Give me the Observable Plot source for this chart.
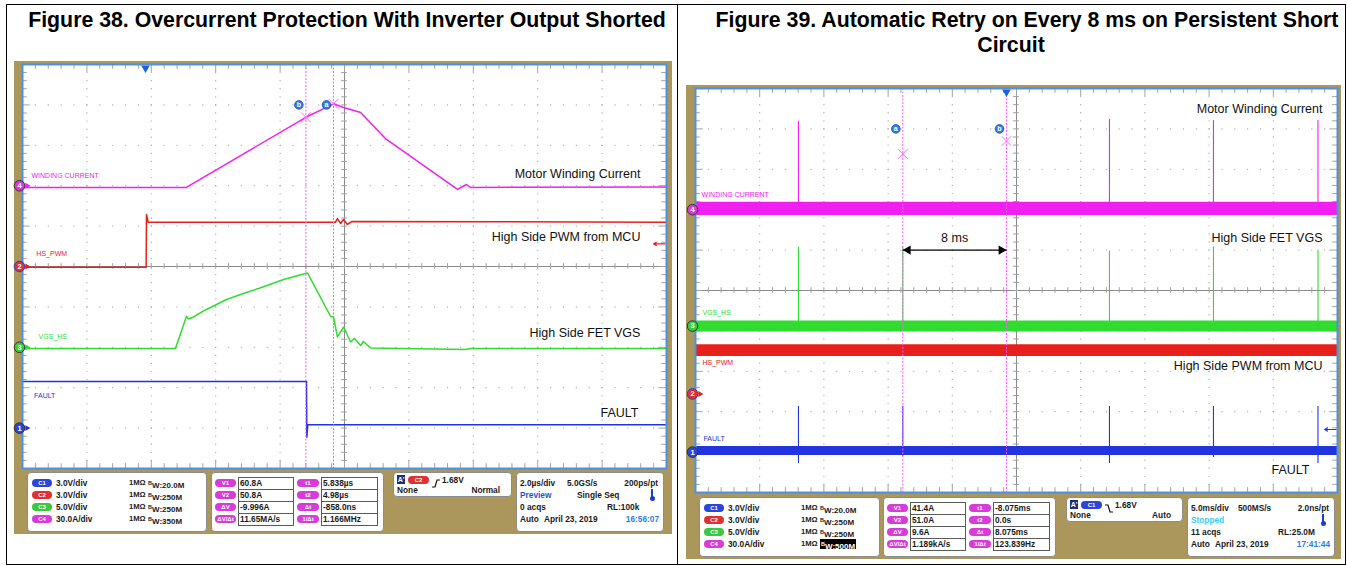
<!DOCTYPE html>
<html><head><meta charset="utf-8">
<script src="https://cdn.jsdelivr.net/npm/d3@7"></script>
<script src="https://cdn.jsdelivr.net/npm/@observablehq/plot@0.6"></script>
<style>
body{margin:0;background:#fff;font-family:Arial,"Liberation Sans",Helvetica,sans-serif;}
#page{position:relative;width:1347px;height:566px;overflow:hidden;background:#fff;}
.t{position:absolute;white-space:nowrap;line-height:10px;height:10px;font-size:8.3px;font-weight:bold;color:#1a1a1a;}
.panel{position:absolute;background:#fff;border:1px solid #8c8c8c;border-radius:4px;box-sizing:border-box;}
.pill{position:absolute;height:8px;border-radius:4px;color:#fff;font-size:6px;font-weight:bold;text-align:center;line-height:8px;}
.box{position:absolute;border:1px solid #5a5a5a;box-sizing:border-box;background:#fff;}
.tan{position:absolute;background:#ab975c;}
</style></head><body><div id="page"></div>
<script>
// ---------------- DATA ----------------
const titles38 = ["Figure 38. Overcurrent Protection With Inverter Output Shorted"];
const titles39 = ["Figure 39. Automatic Retry on Every 8 ms on Persistent Short", "Circuit"];

const chNames = ["C1", "C2", "C3", "C4"];
const chColors = ["#2233e0", "#e8201c", "#2fdc2f", "#f020f0"];
const pillColors = ["#2c44d8", "#e03030", "#3cc83c", "#d83cd8"];
const chScalesText = ["3.0V/div", "3.0V/div", "5.0V/div", "30.0A/div"];
const chScale = [3, 3, 5, 30];           // units per division
const f38Bw = ["20.0M", "250M", "250M", "350M"];
const f39Bw = ["20.0M", "250M", "250M", "500M"];
const f38Offset = [1, 5, 3, 7];          // channel ground position, divisions
const f39Offset = [1, 2.44, 4.12, 7];

// Figure 38 waveforms (time in µs, trigger at 0)
const f38Time = [-3.82, 16.18];
const f38CurrentT = [-3.82, 1.27, 4.98, 5.84, 6.15, 6.68, 7.45, 9.69, 9.85, 9.97, 10.09, 16.18];
const f38Current = [-1.3, -1.3, 50.8, 60.8, 58.1, 54.4, 35.0, -2.8, -0.6, 0.9, -1.3, -1.0];
const f38PwmT = [-3.82, 0.02, 0.03, 0.08, 5.90, 5.96, 6.06, 6.15, 6.27, 6.40, 16.18];
const f38Pwm = [-0.05, -0.05, 3.86, 3.29, 3.29, 3.56, 3.19, 3.49, 3.12, 3.34, 3.29];
const f38VgsT = [-3.82, 0.93, 1.27, 1.34, 1.46, 1.83, 2.52, 3.04, 3.60, 4.29, 4.97, 5.03, 5.75, 5.84, 5.96, 6.15, 6.37, 6.49, 6.68, 6.77, 6.99, 9.94, 10.09, 16.18];
const f38Vgs = [-0.15, -0.15, 3.81, 3.50, 3.69, 4.56, 5.92, 6.66, 7.40, 8.39, 9.13, 9.20, 3.81, 3.75, 1.28, 2.51, 0.66, 1.09, 0.22, 0.72, -0.09, -0.27, -0.15, -0.15];
const f38FaultT = [-3.82, 5.00, 5.01, 5.04, 16.18];
const f38Fault = [3.46, 3.46, -0.67, 0.24, 0.24];
const f38CursorNames = ["b", "a"];
const f38CursorT = [4.98, 5.838];
const f38CursorV = [50.8, 60.8];
const f38Trigger = {t: 0, ch: 1, level: 1.68};

// Figure 39 (time in ms, trigger at 0)
const f39Time = [-24.22, 25.78];
const f39CurrentBand = [-4.3, 5.6];
const f39VgsBand = [-0.74, 0.62];
const f39PwmBand = [2.77, 3.66];
const f39FaultBand = [-0.25, 0.42];
const f39CurrentSpikeT = [-16.2, 8.02, 16.12, 24.26];
const f39CurrentSpike = [65.7, 67.0, 66.2, 66.2];
const f39SpikeT = [-16.2, -8.075, 8.02, 16.12, 24.26];
const f39VgsSpike = [9.74, 9.74, 9.29, 9.78, 9.37];
const f39FaultSpike = [3.39, 3.39, 3.39, 3.39, 3.39];
const f39FaultDip = [-0.85, -0.3, -0.85, -0.4, -0.85];
const f39CursorNames = ["a", "b"];
const f39CursorT = [-8.075, 0];
const f39CursorV = [41.4, 51.0];
const f39Trigger = {t: 0, ch: 0, level: 1.68};

// Panels
const measNamesV = ["V1", "V2", "ΔV", "ΔV/Δt"];
const measNamesT = ["t1", "t2", "Δt", "1/Δt"];
const f38MeasV = ["60.8A", "50.8A", "-9.996A", "11.65MA/s"];
const f38MeasT = ["5.838µs", "4.98µs", "-858.0ns", "1.166MHz"];
const f39MeasV = ["41.4A", "51.0A", "9.6A", "1.189kA/s"];
const f39MeasT = ["-8.075ms", "0.0s", "8.075ms", "123.839Hz"];
const f38Trig = ["C2", "rise", "1.68V", "None", "Normal"];
const f39Trig = ["C1", "fall", "1.68V", "None", "Auto"];
const f38Acq = ["2.0µs/div", "5.0GS/s", "200ps/pt", "Preview", "Single Seq", "0 acqs", "RL:100k", "Auto", "April 23, 2019", "16:56:07"];
const f39Acq = ["5.0ms/div", "500MS/s", "2.0ns/pt", "Stopped", "", "11 acqs", "RL:25.0M", "Auto", "April 23, 2019", "17:41:44"];

// Text annotations: [text, time, division, channel]
const f38Big = [["Motor Winding Current", 15.37, 7.28], ["High Side PWM from MCU", 15.37, 5.72], ["High Side FET VGS", 15.37, 3.35], ["FAULT", 15.31, 1.37]];
const f38Small = [["WINDING CURRENT", -3.54, 7.24, 3], ["HS_PWM", -3.39, 5.32, 1], ["VGS_HS", -3.32, 3.27, 2], ["FAULT", -3.46, 1.81, 0]];
const f39Big = [["Motor Winding Current", 24.61, 9.5], ["High Side FET VGS", 24.61, 6.31], ["High Side PWM from MCU", 24.61, 3.13], ["FAULT", 23.6, 0.56]];
const f39Small = [["WINDING CURRENT", -23.75, 7.38, 3], ["VGS_HS", -23.68, 4.46, 2], ["HS_PWM", -23.68, 3.22, 1], ["FAULT", -23.6, 1.34, 0]];

// ---------------- LAYOUT ----------------
const page = document.getElementById("page");
function div(cls, css, html) {
  const d = document.createElement("div");
  if (cls) d.className = cls;
  Object.assign(d.style, css);
  if (html != null) d.innerHTML = html;
  page.appendChild(d);
  return d;
}
function T(x, y, s, o = {}) {
  const d = div("t", {left: x + "px", top: (y - 5) + "px"}, s);
  if (o.right) d.style.transform = "translateX(-100%)";
  if (o.center) d.style.transform = "translateX(-50%)";
  if (o.color) d.style.color = o.color;
  if (o.size) d.style.fontSize = o.size + "px";
  if (o.weight) d.style.fontWeight = o.weight;
  return d;
}
const px = v => v + "px";

// page frame
div(null, {position: "absolute", left: "6px", top: "4px", width: "1340px", height: "561px", border: "1px solid #000", boxSizing: "border-box"});
div(null, {position: "absolute", left: "677px", top: "4px", width: "1px", height: "561px", background: "#000"});

// titles
function title(s, cx, cy) {
  div(null, {position: "absolute", left: px(cx), top: px(cy - 12), transform: "translateX(-50%)", whiteSpace: "nowrap",
    fontSize: "21.3px", fontWeight: "bold", lineHeight: "24px", color: "#000"}, s);
}
title(titles38[0], 347, 20);
title(titles39[0], 1027, 20);
title(titles39[1], 1011, 45);

// tan frames
div("tan", {left: "14px", top: "61px", width: "658px", height: "473px"});
div("tan", {left: "686px", top: "85px", width: "655px", height: "474px"});

// ---------------- SCOPE (Observable Plot) ----------------
function rows(ts, vs) { return ts.map((t, i) => ({t, v: vs[i]})); }

function scope(cfg) {
  const ML = 12, MR = 6, MT = 2, MB = 2;
  const [t0, t1] = cfg.tDomain;
  const per = (t1 - t0) / 10;
  const tAt = d => t0 + d * per;
  const minors = d3.range(51).map(i => i / 5);
  const inner = [1, 2, 3, 4, 6, 7, 8, 9];
  const isMajor = m => Math.abs(m - Math.round(m)) < 1e-6;
  const g = "#a3a3a3";
  const c = "#a0a0a0";
  const off = cfg.offset;
  const yv = ch => d => off[ch] + d.v / chScale[ch];
  const marks = [
    Plot.frame({fill: "#fff", stroke: null}),
    Plot.dot(d3.cross(inner, minors), {x: p => tAt(p[0]), y: p => p[1], r: 0.65, fill: g, stroke: null}),
    Plot.dot(d3.cross(minors, inner), {x: p => tAt(p[0]), y: p => p[1], r: 0.65, fill: g, stroke: null}),
    Plot.ruleX([5], {x: tAt, stroke: "#8a8a8a"}),
    Plot.ruleY([5], {y: d => d, stroke: "#8a8a8a"}),
    Plot.ruleY(minors, {y: m => m, x1: tAt(4.955), x2: tAt(5.045), stroke: c}),
    Plot.ruleX(minors, {x: tAt, y1: 4.93, y2: 5.07, stroke: c}),
    Plot.ruleX(minors, {x: tAt, y1: 10, y2: m => 10 - (isMajor(m) ? 0.2 : 0.12), stroke: g}),
    Plot.ruleX(minors, {x: tAt, y1: 0, y2: m => (isMajor(m) ? 0.2 : 0.12), stroke: g}),
    Plot.ruleY(minors, {y: m => m, x1: t0, x2: m => tAt(isMajor(m) ? 0.12 : 0.075), stroke: g}),
    Plot.ruleY(minors, {y: m => m, x1: t1, x2: m => tAt(10 - (isMajor(m) ? 0.12 : 0.075)), stroke: g}),
    ...cfg.traces(yv),
    Plot.ruleX(cfg.cursors, {x: "t", stroke: "#ff5cff", strokeWidth: 1, strokeDasharray: "2,1.5"}),
    Plot.dot(cfg.cursors, {x: "t", y: d => off[3] + d.v / chScale[3], symbol: "times", r: 4.5, stroke: "#ff66ff", strokeWidth: 1}),
    Plot.dot(cfg.cursors, {x: "t", y: 9.0, dx: -7, r: 4.3, fill: "#2e7ee6", stroke: "#1b4ea8", strokeWidth: 0.8}),
    Plot.text(cfg.cursors, {x: "t", y: 9.0, dx: -7, text: "name", fill: "#fff", fontSize: 7, fontWeight: "bold"}),
    Plot.text(cfg.big, {x: d => d[1], y: d => d[2], text: d => d[0], textAnchor: "end", fontSize: 12.5, fill: "#111"}),
    Plot.text(cfg.small, {x: d => d[1], y: d => d[2], text: d => d[0], textAnchor: "start", fontSize: 7, fill: d => chColors[d[3]]}),
    ...(cfg.extra ? cfg.extra(tAt) : []),
    Plot.dot([cfg.trigger], {x: "t", y: 10, dy: 3.5, symbol: "triangle", rotate: 180, r: 3.2, fill: "#1d5fe6", stroke: null}),
    Plot.arrow([cfg.trigger], {x1: tAt(9.98), x2: tAt(9.8), y1: d => off[d.ch] + d.level / chScale[d.ch], y2: d => off[d.ch] + d.level / chScale[d.ch],
      stroke: d => chColors[d.ch], strokeWidth: 1.2, headLength: 4}),
    Plot.frame({stroke: "#4f90e0", strokeWidth: 2}),
    Plot.dot(cfg.markerArrows, {x: t0, y: d => off[d], dx: 4.5, symbol: "triangle", rotate: 90, r: 2.2, fill: d => chColors[d], stroke: null}),
    Plot.dot([3, 1, 2, 0], {x: t0, y: d => off[d], dx: -3, r: 5.3, fill: d => pillColors[d], stroke: d => d === 1 ? "#2040d0" : "#333", strokeWidth: 1}),
    Plot.text([3, 1, 2, 0], {x: t0, y: d => off[d], dx: -3, text: d => String(d + 1), fill: "#fff", fontSize: 7.5, fontWeight: "bold"})
  ];
  const svg = Plot.plot({
    width: cfg.plotW + ML + MR, height: 404 + MT + MB,
    marginLeft: ML, marginRight: MR, marginTop: MT, marginBottom: MB,
    x: {domain: cfg.tDomain, axis: null},
    y: {domain: [0, 10], axis: null},
    style: {background: "transparent", overflow: "visible", maxWidth: "none", fontFamily: "Arial, 'Liberation Sans', sans-serif"},
    marks
  });
  svg.style.position = "absolute";
  svg.style.left = px(cfg.plotX - ML);
  svg.style.top = px(cfg.plotY - MT);
  page.appendChild(svg);
}

// Figure 38
scope({
  plotX: 22, plotY: 64, plotW: 644, tDomain: f38Time, offset: f38Offset,
  cursors: f38CursorT.map((t, i) => ({t, name: f38CursorNames[i], v: f38CursorV[i]})),
  trigger: f38Trigger, big: f38Big, small: f38Small, markerArrows: [3, 1, 2, 0],
  traces: yv => [
    Plot.line(rows(f38CurrentT, f38Current), {x: "t", y: yv(3), stroke: chColors[3], strokeWidth: 1.5}),
    Plot.line(rows(f38PwmT, f38Pwm), {x: "t", y: yv(1), stroke: chColors[1], strokeWidth: 1.5}),
    Plot.line(rows(f38VgsT, f38Vgs), {x: "t", y: yv(2), stroke: chColors[2], strokeWidth: 1.5}),
    Plot.line(rows(f38FaultT, f38Fault), {x: "t", y: yv(0), stroke: chColors[0], strokeWidth: 1.5})
  ]
});

// Figure 39
function band(b, dom) { return [{t: dom[0], lo: b[0], hi: b[1]}, {t: dom[1], lo: b[0], hi: b[1]}]; }
scope({
  plotX: 695, plotY: 88, plotW: 642, tDomain: f39Time, offset: f39Offset,
  cursors: f39CursorT.map((t, i) => ({t, name: f39CursorNames[i], v: f39CursorV[i]})),
  trigger: f39Trigger, big: f39Big, small: f39Small, markerArrows: [1],
  traces: yv => {
    const o = f39Offset;
    const ar = (ch, b) => Plot.areaY(band(b, f39Time), {x: "t", y1: d => o[ch] + d.lo / chScale[ch], y2: d => o[ch] + d.hi / chScale[ch], fill: chColors[ch]});
    return [
      Plot.ruleX(f39CurrentSpikeT.map((t, i) => ({t, v: f39CurrentSpike[i]})), {x: "t", y1: o[3], y2: yv(3), stroke: chColors[3], strokeWidth: 1.1}),
      Plot.ruleX(f39SpikeT.map((t, i) => ({t, v: f39VgsSpike[i]})), {x: "t", y1: o[2], y2: yv(2), stroke: chColors[2], strokeWidth: 1.1}),
      Plot.ruleX(f39SpikeT.map((t, i) => ({t, v: f39FaultSpike[i], lo: f39FaultDip[i]})), {x: "t", y1: d => o[0] + d.lo / chScale[0], y2: yv(0), stroke: chColors[0], strokeWidth: 1.1}),
      ar(3, f39CurrentBand), ar(2, f39VgsBand), ar(1, f39PwmBand), ar(0, f39FaultBand)
    ];
  },
  extra: tAt => {
    const a = f39CursorT[0], b = f39CursorT[1], y = 6.0;
    return [
      Plot.link([{a, b}], {x1: "a", x2: "b", y1: y, y2: y, stroke: "#000", strokeWidth: 1.3}),
      Plot.dot([b], {x: d => d, y, dx: -5.2, symbol: "triangle", rotate: 90, r: 3.4, fill: "#000", stroke: null}),
      Plot.dot([a], {x: d => d, y, dx: 5.2, symbol: "triangle", rotate: -90, r: 3.4, fill: "#000", stroke: null}),
      Plot.text([`${Math.round(b - a)} ms`], {x: (a + b) / 2, y: 6.31, text: d => d, fontSize: 12.5, fill: "#111"})
    ];
  }
});

// ---------------- INFO PANELS (HTML) ----------------
function pill(x, y, w, color, s) {
  div("pill", {left: px(x), top: px(y - 4), width: px(w), background: color}, s);
}
function panelChannels(x, y, w, bw, hiLast) {
  div("panel", {left: px(x), top: px(y), width: px(w), height: "60px"});
  for (let i = 0; i < 4; i++) {
    const cy = y + 11 + 12 * i;
    pill(x + 5, cy, 20, pillColors[i], chNames[i]);
    T(x + 29, cy, chScalesText[i]);
    T(x + 102, cy, "1MΩ", {size: 7.6});
    const bwHtml = `<span style="font-size:5.5px;vertical-align:3px">B</span>W:${bw[i]}`;
    const e = T(x + 121, cy, bwHtml, {size: 8});
    if (hiLast && i === 3) { e.style.background = "#000"; e.style.color = "#fff"; e.style.padding = "0 1px"; }
  }
}
function panelMeas(x, y, w, mv, mt) {
  div("panel", {left: px(x), top: px(y), width: px(w), height: "60px"});
  for (let i = 0; i < 4; i++) {
    const ty = y + 5 + 12 * i, cy = ty + 6;
    pill(x + 4, cy, 21, pillColors[3], measNamesV[i]);
    div("box", {left: px(x + 27), top: px(ty), width: "56px", height: "13px"});
    T(x + 29, cy, mv[i]);
    pill(x + 86, cy, 22, pillColors[3], measNamesT[i]);
    div("box", {left: px(x + 110), top: px(ty), width: "57px", height: "13px"});
    T(x + 112, cy, mt[i]);
  }
}
function panelTrig(x, y, w, tr) {
  div("panel", {left: px(x), top: px(y), width: px(w), height: "25px"});
  div(null, {position: "absolute", left: px(x + 4), top: px(y + 3), width: "8px", height: "9px", background: "#1c2f78",
    color: "#fff", fontSize: "7px", fontWeight: "bold", lineHeight: "9px", textAlign: "center"}, "A'");
  const ci = chNames.indexOf(tr[0]);
  pill(x + 15, y + 8, 21, pillColors[ci], tr[0]);
  const path = tr[1] === "rise" ? "M0,8 L3,8 L5,1 L8,1" : "M0,1 L3,1 L5,8 L8,8";
  div(null, {position: "absolute", left: px(x + 39), top: px(y + 3)},
    `<svg width="9" height="10"><path d="${path}" fill="none" stroke="#111" stroke-width="1.2"/></svg>`);
  T(x + 49, y + 8, tr[2]);
  T(x + 4, y + 18, tr[3]);
  T(x + w - 12, y + 18, tr[4], {right: true});
}
function panelAcq(x, y, w, a, stateColor) {
  div("panel", {left: px(x), top: px(y), width: px(w), height: "60px"});
  const r = i => y + 11 + 12 * i;
  T(x + 4, r(0), a[0]); T(x + 51, r(0), a[1]); T(x + w - 6, r(0), a[2], {right: true});
  T(x + 4, r(1), a[3], {color: stateColor}); T(x + 61, r(1), a[4]);
  div(null, {position: "absolute", left: px(x + w - 13), top: px(r(1) - 6), width: "2px", height: "9px", background: "#1840c8"});
  div(null, {position: "absolute", left: px(x + w - 14.5), top: px(r(1) + 1), width: "5px", height: "5px", borderRadius: "50%", background: "#1840c8"});
  T(x + 4, r(2), a[5]); T(x + 91, r(2), a[6]);
  T(x + 4, r(3), a[7]); T(x + 28, r(3), a[8]); T(x + w - 5, r(3), a[9], {right: true, color: "#2a80e8"});
}
panelChannels(27, 472, 180, f38Bw, false);
panelMeas(211, 472, 173, f38MeasV, f38MeasT);
panelTrig(393, 472, 119, f38Trig);
panelAcq(516, 472, 148, f38Acq, "#1a55d8");

panelChannels(699, 497, 181, f39Bw, true);
panelMeas(883, 497, 173, f39MeasV, f39MeasT);
panelTrig(1066, 497, 117, f39Trig);
panelAcq(1187, 497, 148, f39Acq, "#33ccff");
</script></body></html>
